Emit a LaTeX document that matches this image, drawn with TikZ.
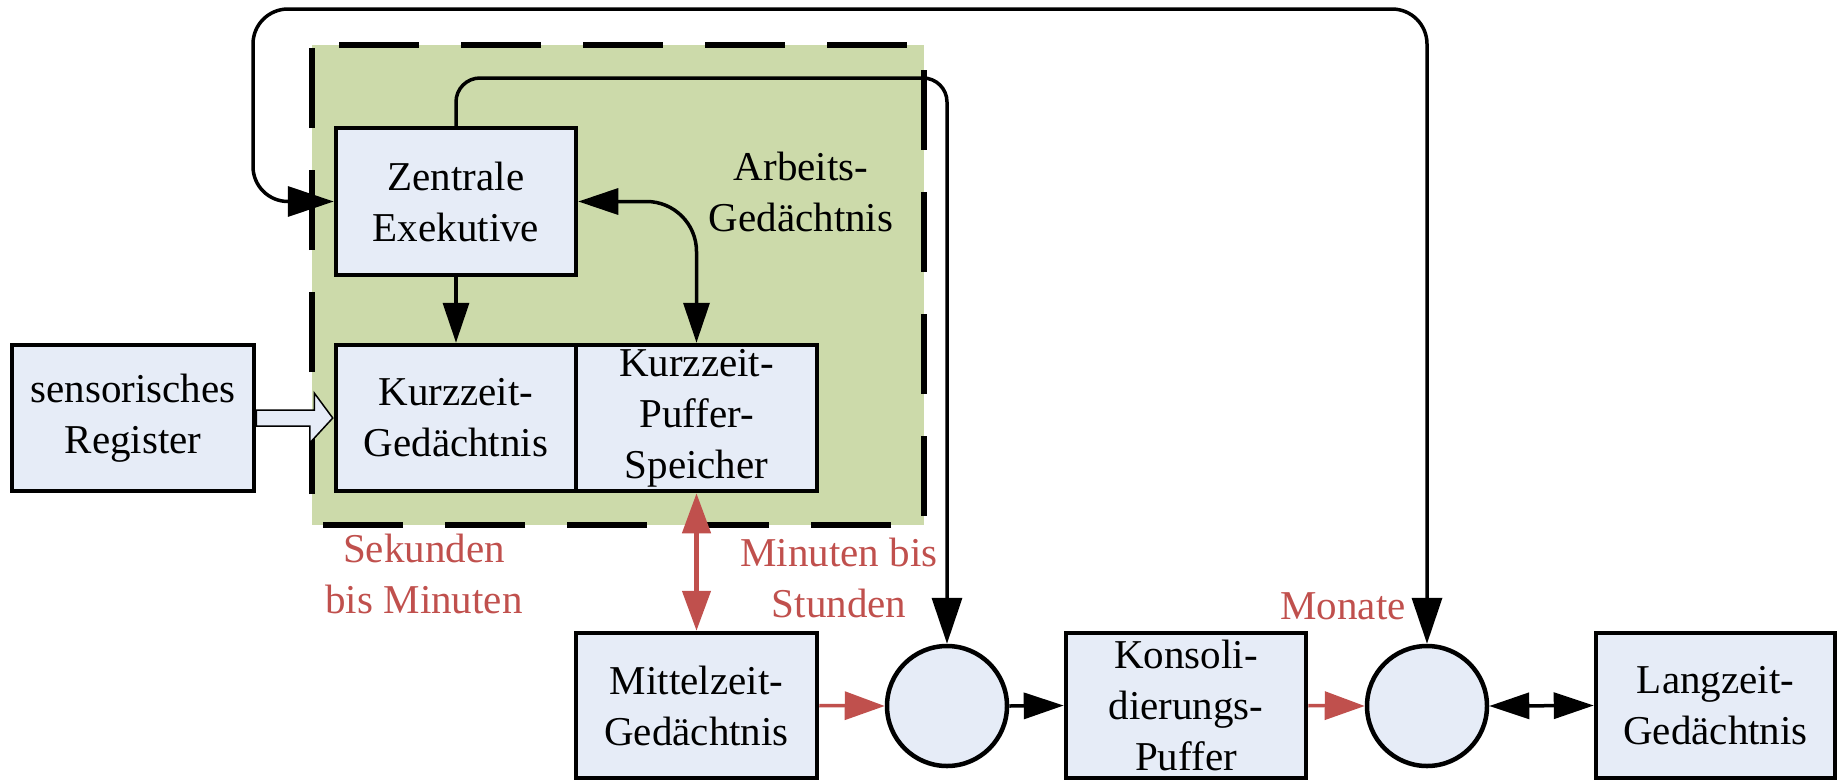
\documentclass[tikz,border=0pt]{standalone}
\usepackage{fontspec}
\setmainfont{Liberation Serif}
\usetikzlibrary{arrows.meta}
\definecolor{boxfill}{RGB}{230,236,247}
\definecolor{wmgreen}{RGB}{204,218,170}
\definecolor{tred}{RGB}{192,80,77}
\begin{document}
\begin{tikzpicture}[x=1pt,y=-1pt,
  txt/.style={font=\fontsize{41}{51}\selectfont, align=center},
  lbl/.style={txt, text=tred, inner sep=0pt},
  memobox/.style={txt, draw, line width=4.5pt, fill=boxfill, inner sep=0pt},
  junction/.style={draw, circle, line width=4.5pt, fill=boxfill, minimum size=120pt, inner sep=0pt},
  conn/.style={line width=3.5pt},
  redconn/.style={line width=3.5pt, draw=tred},
  bigtip/.tip={Triangle[length=46pt,width=30pt]},
  midtip/.tip={Triangle[length=40pt,width=26pt]},
  redtip/.tip={Triangle[length=40pt,width=28pt]},
  frame/.style={line width=6pt, dash pattern=on 80pt off 42pt, dash phase=95pt}
]
\useasboundingbox (0,0) rectangle (1837,780);

% working memory area
\fill[wmgreen] (312,45) rectangle (924,525);
\draw[frame] (312,45) -- (924,45) -- (924,525) -- (312,525) -- cycle;

% nodes
\node[memobox, minimum width=240pt, minimum height=147pt] (zen) at (456,201.5) {Zentrale\\Exekutive};
\node[memobox, minimum width=240pt, minimum height=146pt] (kzg) at (456,418) {Kurzzeit-\\Gedächtnis};
\node[memobox, minimum width=241pt, minimum height=146pt] (kzp) at (696.5,418) {Kurzzeit-\\Puffer-\\Speicher};
\node[memobox, minimum width=242pt, minimum height=146pt] (sen) at (133,418) {sensorisches\\Register};
\node[memobox, minimum width=241pt, minimum height=145pt] (mit) at (696.5,705.5) {Mittelzeit-\\Gedächtnis};
\node[junction] (c1) at (947,706) {};
\node[memobox, minimum width=240pt, minimum height=145pt] (kon) at (1186,705.5) {Konsoli-\\dierungs-\\Puffer};
\node[junction] (c2) at (1427,706) {};
\node[memobox, minimum width=239pt, minimum height=145pt] (lang) at (1715.5,705.5) {Langzeit-\\Gedächtnis};

\node[txt, inner sep=0pt] (arb) at (801,192) {Arbeits-\\Gedächtnis};
\node[lbl] (sek) at (424,574) {Sekunden\\bis Minuten};
\node[lbl] (min) at (839,578) {Minuten bis\\Stunden};
\node[lbl] (mon) at (1343,606) {Monate};

% connectors
\coordinate (outer) at (253,9);
\coordinate (inner) at (700,78);
\draw[conn, {bigtip}-{bigtip}, rounded corners=35pt] (zen.west) -| (outer) -| (c2.north);
\draw[conn, -{bigtip}, rounded corners=24pt] (zen.north) |- (inner) -| (c1.north);
\draw[conn, {midtip}-{midtip}, rounded corners=50pt] (zen.east) -| (kzp.north);
\draw[conn, -{midtip}] (zen.south) -- (kzg.north);

% block arrow sensor -> short term
\draw[line width=1.5pt, fill=boxfill]
  ([yshift=8pt]sen.east) -- ++(58,0) -- ++(0,-17) -- ([xshift=-1pt]kzg.west)
  -- ++(-23,25) -- ++(0,-17) -- ([yshift=-8pt]sen.east) -- cycle;

\draw[redconn, {redtip[fill=tred]}-{redtip[fill=tred]}, line width=4.5pt] (kzp.south) -- (mit.north);
\draw[redconn, -{redtip[fill=tred]}] (mit.east) -- (c1.west);
\draw[redconn, -{redtip[fill=tred]}] (kon.east) -- (c2.west);
\draw[conn, -{midtip}] (c1.east) -- (kon.west);
\draw[conn, {midtip}-{midtip}] (c2.east) -- (lang.west);
\end{tikzpicture}
\end{document}
